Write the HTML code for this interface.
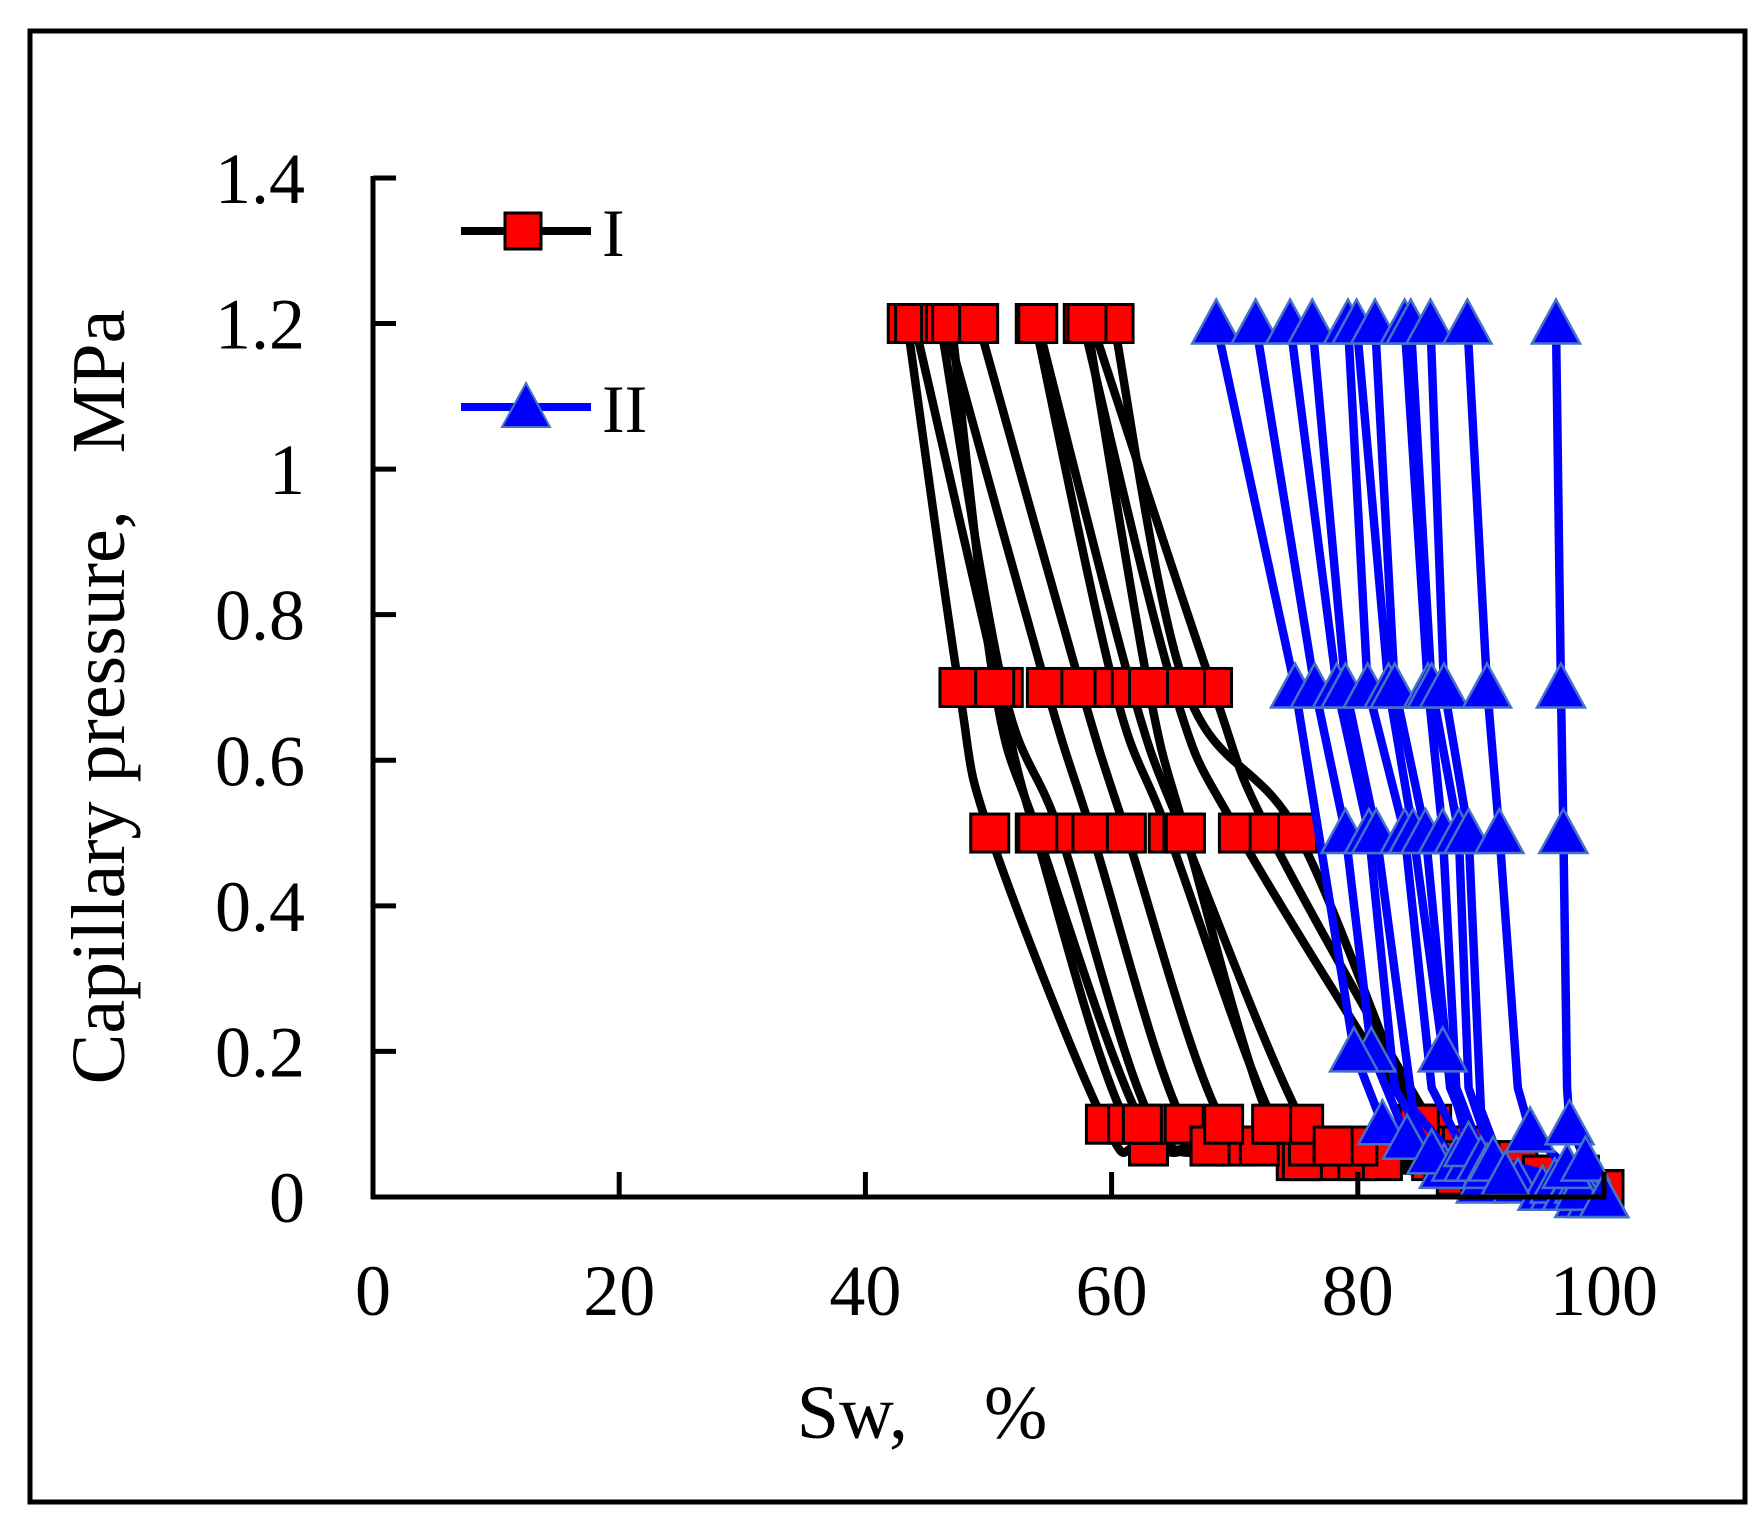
<!DOCTYPE html>
<html><head><meta charset="utf-8"><style>
html,body{margin:0;padding:0;background:#fff;}
svg{display:block;}
text{font-family:"Liberation Serif",serif;fill:#000;}
</style></head><body>
<svg id="s" width="1764" height="1530" xmlns="http://www.w3.org/2000/svg">
<rect x="30" y="31" width="1715" height="1471" fill="none" stroke="#000" stroke-width="5"/>
<g id="plot"></g>
<g stroke="#000" stroke-width="5" fill="none" id="axes"></g>
<g font-size="72" text-anchor="end" id="ylab"></g>
<g font-size="72" text-anchor="middle" id="xlab"></g>
<text x="922" y="1438" font-size="76" text-anchor="middle" xml:space="preserve">Sw,    %</text>
<text transform="translate(124,697) rotate(-90)" font-size="76" text-anchor="middle" xml:space="preserve">Capillary pressure,   MPa</text>
<line x1="461" y1="231" x2="591" y2="231" stroke="#000" stroke-width="8"/>
<rect x="505" y="213" width="36" height="36" fill="#f00" stroke="#000" stroke-width="3"/>
<text x="602" y="256" font-size="68">I</text>
<line x1="461" y1="407" x2="591" y2="407" stroke="#0000ff" stroke-width="8"/>
<polygon points="526,383 550,427 502,427" fill="#0000ff" stroke="#4472c4" stroke-width="2"/>
<text x="602" y="432" font-size="68">II</text>
</svg>
<script>
var X=function(v){return 373+v*12.31;};
var Y=function(p){return 1197-p*727.9;};
var NS="http://www.w3.org/2000/svg";
function el(t,a,par){var e=document.createElementNS(NS,t);for(var k in a)e.setAttribute(k,a[k]);par.appendChild(e);return e;}
var axes=document.getElementById('axes'),yl=document.getElementById('ylab'),xl=document.getElementById('xlab');
el('line',{x1:373,y1:176,x2:373,y2:1199},axes);
el('line',{x1:371,y1:1197,x2:1606,y2:1197},axes);
for(var i=0;i<=7;i++){var p=i*0.2,y=Y(p);el('line',{x1:373,y1:y,x2:396,y2:y},axes);
 var t=el('text',{x:305,y:y+25},yl);t.textContent=(i==0?'0':(i==5?'1':(p.toFixed(1))));}
for(var i=0;i<=5;i++){var x=X(i*20);el('line',{x1:x,y1:1197,x2:x,y2:1172},axes);
 var t=el('text',{x:x,y:1315},xl);t.textContent=String(i*20);}
function path(pts){var d='M'+pts[0][0]+','+pts[0][1];
 for(var i=0;i<pts.length-1;i++){var p0=pts[Math.max(0,i-1)],p1=pts[i],p2=pts[i+1],p3=pts[Math.min(pts.length-1,i+2)];
  var c1=[p1[0]+(p2[0]-p0[0])/6,p1[1]+(p2[1]-p0[1])/6],c2=[p2[0]-(p3[0]-p1[0])/6,p2[1]-(p3[1]-p1[1])/6];
  d+=' C'+c1+' '+c2+' '+p2;}return d;}
var plot=document.getElementById('plot');
var P1=[1.2,0.7,0.5,0.1,0.07,0.05,0.03,0.01];
var I=[[43.4,47.6,50.1,59.5,63,75,88,99],[44,50.8,53.8,61.3,68,78,90,99.5],[46.1,51.2,55.8,63.4,70,80,91,100],
[46.5,54.7,58.4,65.9,72,82,92,100],[47,50.5,54,62.5,68,75.5,90,100],[49.2,57.5,61.2,69.1,76,86,94,100],
[53.8,60.2,64.6,73.3,78,87,95,100],[54,61.6,65.8,75.6,80,88,95,100],[57.7,65,70.3,84.8,86,90,96,100],
[58.4,68.2,72.8,86,88,92,97,100],[60.2,66,75.1,85,88.5,93,98,100],[58,63,66,73,78,87,95,100]];
I.forEach(function(c){var pts=c.map(function(v,i){return[X(v),Y(P1[i])];});
 el('path',{d:path(pts),fill:'none',stroke:'#000','stroke-width':8.5},plot);});
I.forEach(function(c){c.forEach(function(v,i){el('rect',{x:X(v)-19,y:Y(P1[i])-19,width:38,height:38,fill:'#f00',stroke:'#000','stroke-width':3},plot);});});
var II=[
[[68.5,1.2],[74.9,0.7],[79.7,0.2],[82,0.1],[87,0.04],[98,0.0]],
[[71.7,1.2],[76.5,0.7],[79,0.5],[81.1,0.2,1],[84,0.08],[90,0.02],[99,0]],
[[74.5,1.2],[78.3,0.7],[80.9,0.5],[83,0.15],[86,0.06],[93,0.02],[99,0]],
[[76.3,1.2],[79,0.7],[81.5,0.5],[84.5,0.12],[88,0.05],[95,0.01],[100,0]],
[[79.2,1.2],[80.8,0.7],[83.8,0.5],[86,0.15],[89,0.05],[96,0.01],[100,0]],
[[79.9,1.2],[82.5,0.7],[84.5,0.5],[86.9,0.2],[89,0.07],[96,0.02],[100,0]],
[[81.4,1.2],[83,0.7],[85.5,0.5],[87.5,0.15],[90,0.05],[97,0.01],[100,0]],
[[83.8,1.2],[85.7,0.7],[86.9,0.5],[88,0.15],[90.5,0.04],[97,0.01],[100,0]],
[[84.3,1.2],[86,0.7],[88.2,0.5],[89,0.15],[91,0.05],[98,0.02],[100,0]],
[[85.9,1.2],[87,0.7],[89,0.5],[90,0.12],[92,0.03],[98,0.01],[100,0]],
[[88.9,1.2],[90.5,0.7],[91.5,0.5],[93,0.15],[94,0.09],[97,0.04],[100,0]],
[[96.1,1.2],[96.5,0.7],[96.7,0.5],[97,0.15],[97.2,0.1],[98.5,0.05],[100,0]]];
II.forEach(function(c){var d='M'+c.map(function(q){return X(q[0])+','+Y(q[1]);}).join(' L');
 el('path',{d:d,fill:'none',stroke:'#0000ff','stroke-width':8.5,'stroke-linejoin':'round'},plot);});
function tri(x,y){el('polygon',{points:(x)+','+(y-24)+' '+(x+24)+','+(y+20)+' '+(x-24)+','+(y+20),fill:'#0000ff',stroke:'#4472c4','stroke-width':2.5},plot);}
II.forEach(function(c){c.forEach(function(q){
 var p=q[1]; var show=(p!=0.15&&p!=0.12&&p!=0.2)||q[2];
 if(show)tri(X(q[0]),Y(p));});});
tri(X(79.7),Y(0.2));tri(X(86.9),Y(0.2));
</script>
</body></html>
